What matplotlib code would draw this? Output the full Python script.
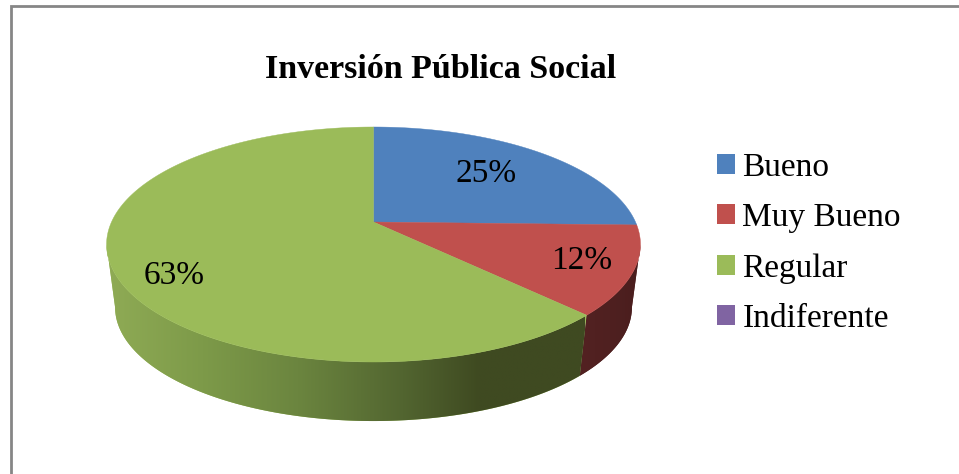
#!/usr/bin/env python3

import numpy as np
import matplotlib
matplotlib.use('Agg')
import matplotlib.pyplot as plt
from matplotlib.colors import LinearSegmentedColormap
from matplotlib.patches import Patch, Polygon

categories = ['Bueno', 'Muy Bueno', 'Regular', 'Indiferente']
shares = [25, 12.5, 62.5, 0]
share_labels = ['25%', '12%', '63%']
title = 'Inversión Pública Social'

colors = ['#4f81bd', '#c0504d', '#9bbb59', '#8064a2']
wall_colors = ['#4f81bd', '#4f2020', '#9bbb59', '#8064a2']
label_pos = [(486, 174), (582, 261), (174, 276)]

CX, CY = 373.5, 222
K = 0.1915  # perspective, near side of the pie looks bigger
A, B = 113.2, 262
# lower rim is the same circle, a bit smaller and shifted down
RIM_SCALE = 0.968
RIM_DY = 63.5


def project(theta, scale=1.0, dy=0.0):
    xx, yy = np.cos(theta), np.sin(theta)
    den = 1 + K * yy
    return CX + scale * B * xx / den, CY + dy - scale * A * yy / den


def arc(start, end, n=200):
    return np.linspace(start, end, n)


def main():
    plt.rcParams['font.family'] = ['Liberation Serif', 'DejaVu Serif']
    fig = plt.figure(figsize=(9.59, 4.74), dpi=100)
    ax = fig.add_axes([0, 0, 1, 1])
    ax.set_xlim(0, 959)
    ax.set_ylim(474, 0)
    ax.axis('off')

    # frame, only top and left are in the picture
    ax.plot([11, 11, 959], [474, 6, 6], color='#868686', lw=2, solid_joinstyle='miter')

    fracs = np.array(shares) / sum(shares)
    edges = np.pi / 2 - 2 * np.pi * np.concatenate(([0], np.cumsum(fracs)))
    # inner slice edges sit slightly further round in the picture
    edges[1] -= 0.026
    edges[2] -= 0.006
    silhouette = np.arcsin(-K)

    # side walls, only the part facing us
    green_grad = LinearSegmentedColormap.from_list('g', [
        (0.0, '#8fab55'), (0.2, '#7d9a49'), (0.4, '#6b853f'),
        (0.62, '#526530'), (0.78, '#3f4a21'), (1.0, '#3f4a22')])
    red_grad = LinearSegmentedColormap.from_list('r', ['#532222', '#4f2020', '#4a1e1e'])

    walls = [(arc(edges[2], silhouette), 1, red_grad, 580, 640),
             (arc(edges[2], -np.pi - silhouette), 2, green_grad, 107, 585)]
    for th, i, cmap, x0, x1 in walls:
        tx, ty = project(th)
        bx, by = project(th[::-1], RIM_SCALE, RIM_DY)
        poly = Polygon(np.column_stack((np.r_[tx, bx], np.r_[ty, by])), closed=True,
                       fc=wall_colors[i], ec='none', transform=ax.transData)
        ax.add_patch(poly)
        im = ax.imshow(np.linspace(0, 1, 256).reshape(1, -1), cmap=cmap, aspect='auto',
                       extent=(x0, x1, 430, 230), zorder=2, interpolation='bilinear')
        im.set_clip_path(poly)
    ax.set_xlim(0, 959)
    ax.set_ylim(474, 0)

    # top face
    for i in range(len(shares)):
        if fracs[i] == 0:
            continue
        px, py = project(arc(edges[i], edges[i + 1], 300))
        ax.add_patch(Polygon(np.column_stack((np.r_[CX, px], np.r_[CY, py])), closed=True,
                             fc=colors[i], ec=colors[i], lw=0.3, zorder=3))

    for lab, (x, y) in zip(share_labels, label_pos):
        ax.text(x, y, lab, fontsize=24, ha='center', va='center', color='black', zorder=4)

    ax.text(441, 69, title, fontsize=24.5, fontweight='bold', ha='center', va='center')

    handles = [Patch(fc=c, ec='none') for c in colors]
    ax.legend(handles, categories, loc='upper left', bbox_to_anchor=(717 / 959, 1 - 152 / 474),
              frameon=False, fontsize=24, handlelength=0.54, handleheight=0.54,
              handletextpad=0.22, labelspacing=0.6, borderpad=0, borderaxespad=0)

    fig.savefig('out.png', dpi=100, facecolor='white')


if __name__ == '__main__':
    main()
